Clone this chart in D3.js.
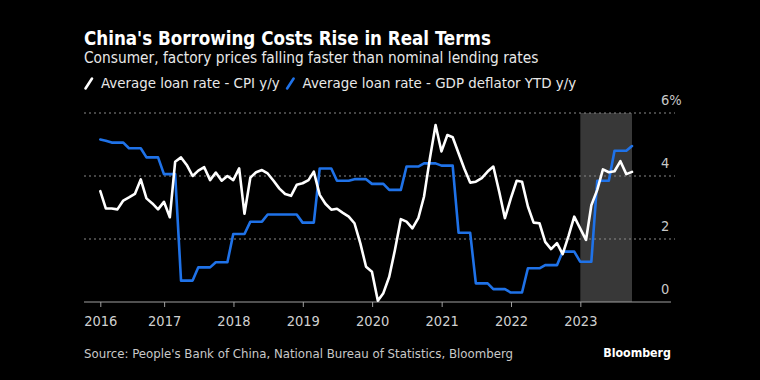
<!DOCTYPE html>
<html><head><meta charset="utf-8">
<script src="https://cdn.jsdelivr.net/npm/d3@7"></script>
<style>
html,body{margin:0;padding:0;background:#000;}
svg{display:block;}
text{font-family:"DejaVu Sans Condensed","DejaVu Sans",sans-serif;}
</style></head><body>
<svg id="chart" width="760" height="380"></svg>
<script>
// ---- data ----
const startMonth = "2016-01"; // monthly observations, plotted at month end
const cpiSeries = [
 3.52,2.97,2.97,2.94,3.22,3.32,3.43,3.89,3.29,3.13,2.94,3.18,
 2.69,4.45,4.59,4.35,4.00,4.17,4.28,3.87,4.11,3.85,4.00,3.87,
 4.24,2.80,3.95,4.12,4.19,4.08,3.85,3.60,3.43,3.37,3.72,3.77,
 3.87,4.14,3.40,3.12,2.93,2.96,2.83,2.71,2.50,1.86,1.12,0.96,
 0.04,0.28,0.80,1.65,2.63,2.55,2.34,2.66,3.34,4.56,5.62,4.78,
 5.30,5.23,4.72,4.24,3.79,3.82,3.93,4.14,4.30,3.50,2.66,3.29,
 3.85,3.82,3.03,2.52,2.50,1.91,1.68,1.87,1.52,2.10,2.71,2.34,
 1.97,3.07,3.56,4.21,4.12,4.15,4.47,4.06,4.13
];
const deflatorSeries = [
 5.16,5.12,5.06,5.06,5.06,4.88,4.88,4.88,4.59,4.59,4.59,4.06,
 4.06,4.06,0.68,0.68,0.68,1.10,1.10,1.10,1.26,1.26,1.26,2.16,
 2.16,2.16,2.55,2.55,2.55,2.78,2.78,2.78,2.78,2.78,2.78,2.52,
 2.52,2.52,4.24,4.24,4.24,3.85,3.85,3.85,3.90,3.90,3.90,3.75,
 3.75,3.75,3.56,3.56,3.56,4.30,4.30,4.30,4.40,4.40,4.40,4.33,
 4.33,4.33,2.20,2.20,2.20,0.59,0.59,0.59,0.41,0.41,0.41,0.30,
 0.30,0.30,1.07,1.07,1.07,1.17,1.17,1.17,1.60,1.60,1.60,1.28,
 1.28,1.28,3.85,3.85,3.85,4.80,4.80,4.80,4.95
];
const seriesNames = ["Average loan rate - CPI y/y","Average loan rate - GDP deflator YTD y/y"];
const xTickLabels = ["2016","2017","2018","2019","2020","2021","2022","2023"];
const yTicks = [0,2,4,6];
const shadeStart = "2023-01";
const titleText = "China's Borrowing Costs Rise in Real Terms";
const subtitleText = "Consumer, factory prices falling faster than nominal lending rates";
const sourceText = "Source: People's Bank of China, National Bureau of Statistics, Bloomberg";

// ---- build ----
(function () {
const parseM = d3.timeParse("%Y-%m");
const start = parseM(startMonth);
const dates = cpiSeries.map((_, i) => d3.timeDay.offset(d3.timeMonth.offset(start, i + 1), -1));
const svg = d3.select("#chart");
const colors = ["#ffffff", "#1f72e8"];

const pLeft = 84, pRight = 671, pTop = 113, pBottom = 302;
const x = d3.scaleTime().domain([dates[0], dates[dates.length - 1]]).range([100.3, 632]);
const y = d3.scaleLinear().domain([0, 6]).range([pBottom, pTop]);

svg.append("rect").attr("width", 760).attr("height", 380).attr("fill", "#000");

// titles
svg.append("text").attr("x", pLeft).attr("y", 45).attr("fill", "#fff")
  .attr("font-size", 18.6).attr("font-weight", "bold").text(titleText);
svg.append("text").attr("x", pLeft).attr("y", 63).attr("fill", "#e8e8e8")
  .attr("font-size", 15.3).text(subtitleText);

// legend
const leg = svg.append("g");
let lx = pLeft;
seriesNames.forEach((name, i) => {
  leg.append("line").attr("x1", lx + 1.5).attr("y1", 88.5).attr("x2", lx + 8).attr("y2", 78.5)
    .attr("stroke", colors[i]).attr("stroke-width", 2.6).attr("stroke-linecap", "round");
  const t = leg.append("text").attr("x", lx + 17).attr("y", 88).attr("fill", "#e8e8e8")
    .attr("font-size", 14.9).text(name);
  lx = lx + 17 + t.node().getComputedTextLength() + 6;
});

// shaded region
const s0 = parseM(shadeStart);
svg.append("rect").attr("x", x(s0)).attr("y", pTop)
  .attr("width", x(dates[dates.length - 1]) - x(s0))
  .attr("height", pBottom - pTop).attr("fill", "#383838");

// gridlines
svg.append("g").selectAll("line").data(yTicks.filter(d => d > 0)).join("line")
  .attr("x1", pLeft).attr("x2", pRight + 4).attr("y1", d => y(d)).attr("y2", d => y(d))
  .attr("stroke", "#8a8a8a").attr("stroke-width", 1).attr("stroke-dasharray", "2,3");

// y labels
svg.append("g").selectAll("text").data(yTicks).join("text")
  .attr("x", 661).attr("y", d => y(d) - 8).attr("fill", "#c8c8c8").attr("font-size", 14.5)
  .text(d => d === 6 ? d + "%" : d);

// x axis
const tickDates = xTickLabels.map((l, i) => i === 0 ? dates[0] : new Date(+l, 0, 1));
const xAxis = d3.axisBottom(x).tickValues(tickDates).tickSize(5).tickSizeOuter(0)
  .tickFormat((d, i) => xTickLabels[i]);
const ax = svg.append("g").attr("transform", `translate(0,${pBottom})`).call(xAxis);
ax.select(".domain").remove();
ax.append("line").attr("x1", pLeft).attr("x2", pRight).attr("stroke", "#a0a0a0").attr("stroke-width", 1.2);
ax.selectAll(".tick line").attr("stroke", "#a0a0a0");
ax.selectAll(".tick text").attr("fill", "#d0d0d0").attr("font-size", 14.5).attr("dy", "1.1em")
  .attr("font-family", "DejaVu Sans Condensed, DejaVu Sans, sans-serif");

// lines
const line = d3.line().x((d, i) => x(dates[i])).y(d => y(d)).curve(d3.curveLinear);
[deflatorSeries, cpiSeries].forEach((s, k) => {
  svg.append("path").datum(s).attr("d", line).attr("fill", "none")
    .attr("stroke", k === 0 ? colors[1] : colors[0]).attr("stroke-width", 2.6)
    .attr("stroke-linejoin", "round").attr("stroke-linecap", "round");
});

// footer
svg.append("text").attr("x", pLeft).attr("y", 358).attr("fill", "#c8c8c8").attr("font-size", 13.1).text(sourceText);
svg.append("text").attr("x", pRight).attr("y", 357).attr("text-anchor", "end").attr("fill", "#fff")
  .attr("font-size", 12.3).attr("font-weight", "bold").text("Bloomberg");
})();
</script>
</body></html>
